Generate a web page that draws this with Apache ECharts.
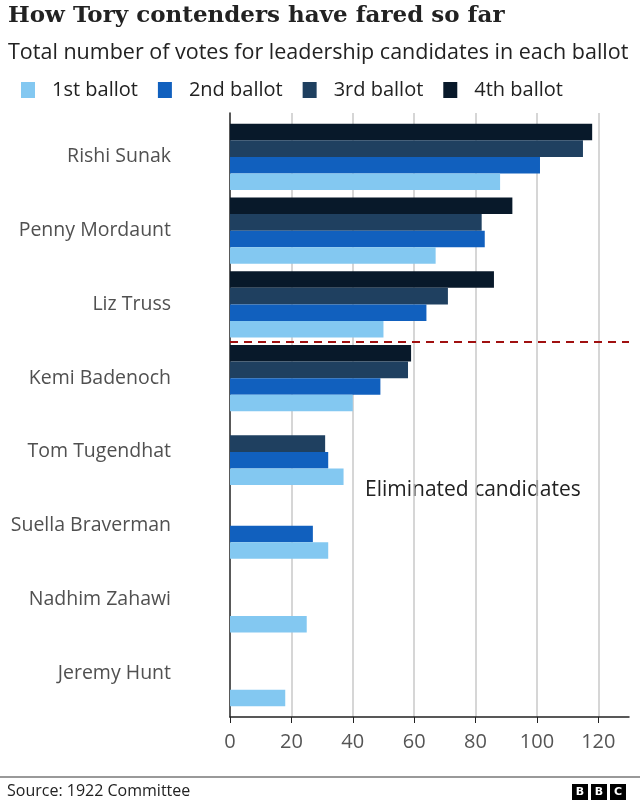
<!DOCTYPE html>
<html>
<head>
<meta charset="utf-8">
<script src="https://cdn.jsdelivr.net/npm/echarts@6/dist/echarts.min.js"></script>
<style>
html, body { margin: 0; padding: 0; background: #fff; }
#main { width: 640px; height: 800px; }
</style>
</head>
<body>
<div id="main"></div>
<script>
var candidates = ["Rishi Sunak", "Penny Mordaunt", "Liz Truss", "Kemi Badenoch",
  "Tom Tugendhat", "Suella Braverman", "Nadhim Zahawi", "Jeremy Hunt"];
var ballot1 = [88, 67, 50, 40, 37, 32, 25, 18];
var ballot2 = [101, 83, 64, 49, 32, 27, null, null];
var ballot3 = [115, 82, 71, 58, 31, null, null, null];
var ballot4 = [118, 92, 86, 59, null, null, null, null];
var ballotNames = ["1st ballot", "2nd ballot", "3rd ballot", "4th ballot"];
var xTicks = [0, 20, 40, 60, 80, 100, 120];
var cutoffIndex = 2.5; // boundary between Liz Truss and Kemi Badenoch

var colors = ["#83c8f1", "#1160be", "#1f4060", "#08192a"];
var sans = "Open Sans";

// bars live in a grid slightly shorter than the frame grid (axis + gridlines)
var barTop = 120, barHeight = 590, frameTop = 113, frameHeight = 604;
var band = barHeight / candidates.length;
var pad = (barTop - frameTop) / band;

var myChart = echarts.init(document.getElementById("main"));

var option = {
  animation: false,
  title: [
    {
      text: "How Tory contenders have fared so far",
      left: 3,
      top: 0,
      textStyle: { fontFamily: "DejaVu Serif", fontWeight: "bold", fontSize: 23, color: "#222" }
    },
    {
      text: "Total number of votes for leadership candidates in each ballot",
      left: 3,
      top: 37,
      textStyle: { fontFamily: sans, fontWeight: "normal", fontSize: 21.5, color: "#222" }
    }
  ],
  legend: {
    data: ballotNames,
    left: 16,
    top: 75,
    icon: "rect",
    itemWidth: 14,
    itemHeight: 16,
    itemGap: 20,
    textStyle: { fontFamily: sans, fontSize: 20, color: "#222", padding: [0, 0, 0, 12] }
  },
  grid: [
    { left: 230, right: 11, top: barTop, height: barHeight },
    { left: 230, right: 11, top: frameTop, height: frameHeight }
  ],
  xAxis: [
    {
      gridIndex: 0, type: "value", min: 0, max: 130, interval: 20,
      show: false
    },
    {
      gridIndex: 1, type: "value", min: 0, max: 130, interval: 20, position: "bottom",
      axisLine: { show: true, onZero: false, lineStyle: { color: "#222", width: 1.5 } },
      axisTick: { show: true, customValues: xTicks, length: 6, lineStyle: { color: "#222" } },
      axisLabel: {
        customValues: xTicks, margin: 15,
        fontFamily: sans, fontSize: 20, color: "#555"
      },
      splitLine: { show: true, showMinLine: false, lineStyle: { color: "#c8c8c8", width: 1.5 } }
    }
  ],
  yAxis: [
    {
      gridIndex: 0, type: "category", data: candidates, inverse: true,
      axisLine: { show: false },
      axisTick: { show: false },
      axisLabel: { margin: 59, padding: [5, 0, 0, 0], fontFamily: sans, fontSize: 19.5, color: "#505050" }
    },
    {
      gridIndex: 1, type: "value", inverse: true, position: "left",
      min: -0.5 - pad, max: candidates.length - 0.5 + pad,
      axisLine: { show: true, onZero: false, lineStyle: { color: "#222", width: 1.5 } },
      axisTick: { show: false },
      axisLabel: { show: false },
      splitLine: { show: false }
    }
  ],
  series: [
    { name: ballotNames[3], type: "bar", data: ballot4, xAxisIndex: 0, yAxisIndex: 0,
      barGap: 0, barCategoryGap: "10%", itemStyle: { color: colors[3] } },
    { name: ballotNames[2], type: "bar", data: ballot3, xAxisIndex: 0, yAxisIndex: 0,
      barGap: 0, barCategoryGap: "10%", itemStyle: { color: colors[2] } },
    { name: ballotNames[1], type: "bar", data: ballot2, xAxisIndex: 0, yAxisIndex: 0,
      barGap: 0, barCategoryGap: "10%", itemStyle: { color: colors[1] } },
    { name: ballotNames[0], type: "bar", data: ballot1, xAxisIndex: 0, yAxisIndex: 0,
      barGap: 0, barCategoryGap: "10%", itemStyle: { color: colors[0] } },
    {
      type: "line", data: [], xAxisIndex: 1, yAxisIndex: 1,
      markLine: {
        silent: true, symbol: "none",
        label: { show: false },
        lineStyle: { color: "#a01010", type: [8, 6], width: 2 },
        data: [{ yAxis: cutoffIndex }]
      }
    }
  ],
  graphic: [
    {
      type: "text", left: 365, top: 480,
      style: { text: "Eliminated candidates", fontFamily: sans, fontSize: 21, fill: "#222" }
    },
    {
      type: "rect", left: 0, top: 776,
      shape: { width: 640, height: 2 },
      style: { fill: "#999" }
    },
    {
      type: "text", left: 7, top: 783,
      style: { text: "Source: 1922 Committee", fontFamily: sans, fontSize: 16, fill: "#222" }
    },
    {
      type: "group", left: 572, top: 784,
      children: [
        { type: "rect", shape: { x: 0, y: 0, width: 16, height: 16 }, style: { fill: "#000" } },
        { type: "rect", shape: { x: 19, y: 0, width: 16, height: 16 }, style: { fill: "#000" } },
        { type: "rect", shape: { x: 38, y: 0, width: 16, height: 16 }, style: { fill: "#000" } },
        { type: "text", x: 8, y: 8, style: { text: "B", fill: "#fff", fontFamily: "DejaVu Sans", fontWeight: "bold", fontSize: 11, align: "center", verticalAlign: "middle" } },
        { type: "text", x: 27, y: 8, style: { text: "B", fill: "#fff", fontFamily: "DejaVu Sans", fontWeight: "bold", fontSize: 11, align: "center", verticalAlign: "middle" } },
        { type: "text", x: 46, y: 8, style: { text: "C", fill: "#fff", fontFamily: "DejaVu Sans", fontWeight: "bold", fontSize: 11, align: "center", verticalAlign: "middle" } }
      ]
    }
  ]
};

myChart.setOption(option);
</script>
</body>
</html>
